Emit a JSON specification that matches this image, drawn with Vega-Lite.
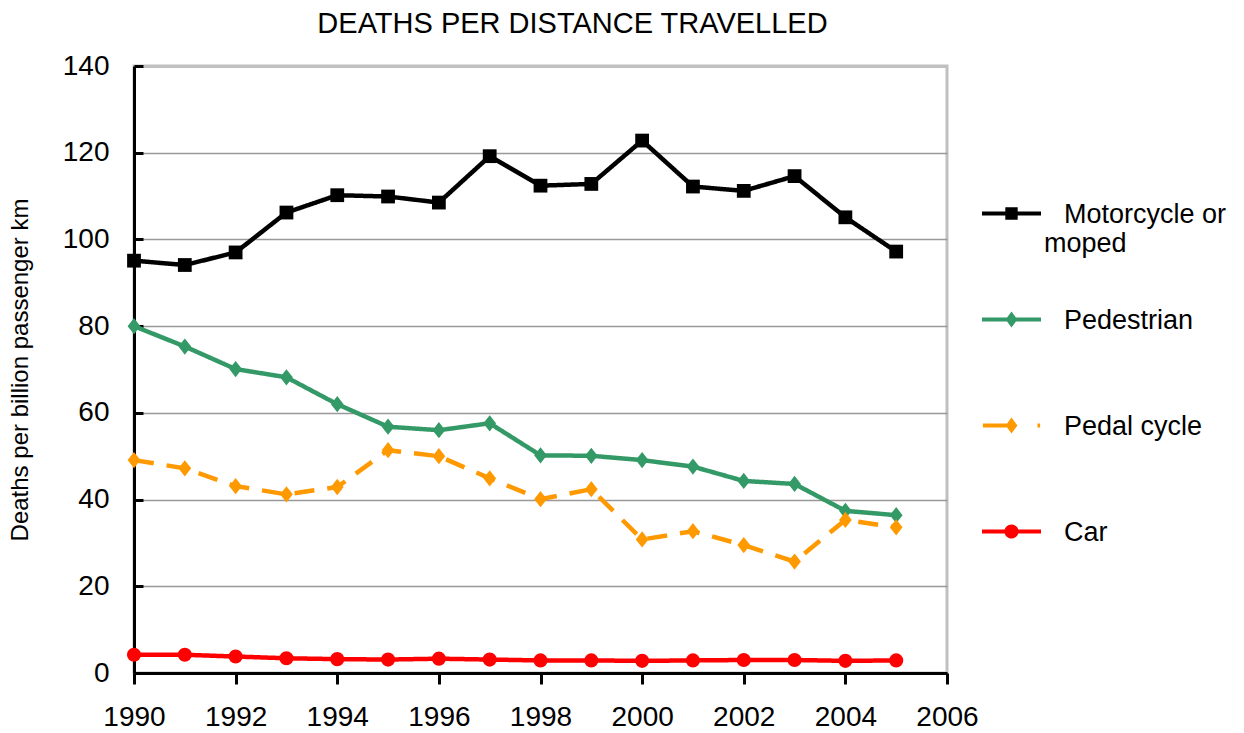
{
  "$schema": "https://vega.github.io/schema/vega-lite/v6.json",
  "autosize": {"type": "none"},
  "padding": {"left": 134, "top": 66, "right": 297, "bottom": 60},
  "width": 813,
  "height": 607,
  "background": "white",
  "title": {
    "text": "DEATHS PER DISTANCE TRAVELLED",
    "font": "Liberation Sans",
    "fontSize": 29,
    "fontWeight": "normal",
    "color": "#000000",
    "anchor": "middle",
    "dx": 32,
    "offset": 13
  },
  "data": {
    "values": [
      {"year": 1990, "series": "Motorcycle or moped", "value": 95.1},
      {"year": 1991, "series": "Motorcycle or moped", "value": 94.1},
      {"year": 1992, "series": "Motorcycle or moped", "value": 97.0},
      {"year": 1993, "series": "Motorcycle or moped", "value": 106.2},
      {"year": 1994, "series": "Motorcycle or moped", "value": 110.2},
      {"year": 1995, "series": "Motorcycle or moped", "value": 109.9},
      {"year": 1996, "series": "Motorcycle or moped", "value": 108.5},
      {"year": 1997, "series": "Motorcycle or moped", "value": 119.2},
      {"year": 1998, "series": "Motorcycle or moped", "value": 112.4},
      {"year": 1999, "series": "Motorcycle or moped", "value": 112.8},
      {"year": 2000, "series": "Motorcycle or moped", "value": 122.8},
      {"year": 2001, "series": "Motorcycle or moped", "value": 112.2},
      {"year": 2002, "series": "Motorcycle or moped", "value": 111.2},
      {"year": 2003, "series": "Motorcycle or moped", "value": 114.6},
      {"year": 2004, "series": "Motorcycle or moped", "value": 105.1},
      {"year": 2005, "series": "Motorcycle or moped", "value": 97.2},
      {"year": 1990, "series": "Pedestrian", "value": 80.0},
      {"year": 1991, "series": "Pedestrian", "value": 75.3},
      {"year": 1992, "series": "Pedestrian", "value": 70.1},
      {"year": 1993, "series": "Pedestrian", "value": 68.2},
      {"year": 1994, "series": "Pedestrian", "value": 62.0},
      {"year": 1995, "series": "Pedestrian", "value": 56.8},
      {"year": 1996, "series": "Pedestrian", "value": 56.0},
      {"year": 1997, "series": "Pedestrian", "value": 57.6},
      {"year": 1998, "series": "Pedestrian", "value": 50.2},
      {"year": 1999, "series": "Pedestrian", "value": 50.1},
      {"year": 2000, "series": "Pedestrian", "value": 49.1},
      {"year": 2001, "series": "Pedestrian", "value": 47.6},
      {"year": 2002, "series": "Pedestrian", "value": 44.3},
      {"year": 2003, "series": "Pedestrian", "value": 43.6},
      {"year": 2004, "series": "Pedestrian", "value": 37.4},
      {"year": 2005, "series": "Pedestrian", "value": 36.4},
      {"year": 1990, "series": "Pedal cycle", "value": 49.1},
      {"year": 1991, "series": "Pedal cycle", "value": 47.2},
      {"year": 1992, "series": "Pedal cycle", "value": 43.1},
      {"year": 1993, "series": "Pedal cycle", "value": 41.2},
      {"year": 1994, "series": "Pedal cycle", "value": 42.9},
      {"year": 1995, "series": "Pedal cycle", "value": 51.4},
      {"year": 1996, "series": "Pedal cycle", "value": 50.0},
      {"year": 1997, "series": "Pedal cycle", "value": 44.9},
      {"year": 1998, "series": "Pedal cycle", "value": 40.1},
      {"year": 1999, "series": "Pedal cycle", "value": 42.4},
      {"year": 2000, "series": "Pedal cycle", "value": 30.8},
      {"year": 2001, "series": "Pedal cycle", "value": 32.7},
      {"year": 2002, "series": "Pedal cycle", "value": 29.5},
      {"year": 2003, "series": "Pedal cycle", "value": 25.7},
      {"year": 2004, "series": "Pedal cycle", "value": 35.3},
      {"year": 2005, "series": "Pedal cycle", "value": 33.6},
      {"year": 1990, "series": "Car", "value": 4.2},
      {"year": 1991, "series": "Car", "value": 4.2},
      {"year": 1992, "series": "Car", "value": 3.8},
      {"year": 1993, "series": "Car", "value": 3.4},
      {"year": 1994, "series": "Car", "value": 3.2},
      {"year": 1995, "series": "Car", "value": 3.1},
      {"year": 1996, "series": "Car", "value": 3.3},
      {"year": 1997, "series": "Car", "value": 3.1},
      {"year": 1998, "series": "Car", "value": 2.9},
      {"year": 1999, "series": "Car", "value": 2.9},
      {"year": 2000, "series": "Car", "value": 2.8},
      {"year": 2001, "series": "Car", "value": 2.9},
      {"year": 2002, "series": "Car", "value": 3.0},
      {"year": 2003, "series": "Car", "value": 3.0},
      {"year": 2004, "series": "Car", "value": 2.8},
      {"year": 2005, "series": "Car", "value": 2.9}
    ]
  },
  "encoding": {
    "x": {
      "field": "year",
      "type": "quantitative",
      "scale": {"domain": [1990, 2006], "nice": false, "zero": false},
      "axis": {
        "values": [1990, 1992, 1994, 1996, 1998, 2000, 2002, 2004, 2006],
        "format": "d",
        "title": null,
        "grid": false,
        "tickSize": 11,
        "labelPadding": 19,
        "labelFlush": false,
        "labelOverlap": false
      }
    },
    "y": {
      "field": "value",
      "type": "quantitative",
      "scale": {"domain": [0, 140], "nice": false},
      "axis": {
        "values": [0, 20, 40, 60, 80, 100, 120, 140],
        "title": "Deaths per billion passenger km",
        "titleFontSize": 24,
        "titleFontWeight": "normal",
        "titlePadding": 30,
        "tickSize": -9,
        "labelPadding": 34,
        "grid": true,
        "gridColor": {"condition": {"test": "datum.value == 140", "value": "#c0c0c0"}, "value": "#999999"},
        "gridWidth": {"condition": {"test": "datum.value == 140", "value": 3}, "value": 1.3}
      }
    }
  },
  "layer": [
    {
      "mark": {"type": "line", "strokeWidth": 4.5, "strokeJoin": "miter"},
      "encoding": {
        "color": {
          "field": "series",
          "type": "nominal",
          "scale": {
            "domain": ["Motorcycle or moped", "Pedestrian", "Pedal cycle", "Car"],
            "range": ["#000000", "#339966", "#FF9900", "#FF0000"]
          },
          "legend": {
            "orient": "none",
            "legendX": 848,
            "legendY": 118,
            "title": null,
            "padding": 0,
            "symbolSize": 3481,
            "symbolStrokeWidth": 0,
            "symbolOpacity": 1,
            "labelFont": "Liberation Sans",
            "labelFontSize": 27,
            "labelColor": "#000000",
            "labelOffset": 3,
            "labelLimit": 400,
            "rowPadding": 33,
            "labelBaseline": "alphabetic",
            "labelExpr": "datum.label == 'Motorcycle or moped' ? ['\\u2800Motorcycle or', 'moped'] : ['\\u2800' + datum.label, '']",
            "encode": {
              "symbols": {
                "update": {
                  "fill": {"signal": "scale('color', datum.value)"},
                  "stroke": {"signal": "scale('color', datum.value)"},
                  "strokeWidth": {"value": 0},
                  "opacity": {"value": 1},
                  "fillOpacity": {"value": 1}
                }
              },
              "labels": {
                "update": {
                  "dy": {"value": 9},
                  "lineHeight": {"value": 29}
                }
              }
            }
          }
        },
        "strokeDash": {
          "field": "series",
          "type": "nominal",
          "scale": {
            "domain": ["Motorcycle or moped", "Pedestrian", "Pedal cycle", "Car"],
            "range": [[1, 0], [1, 0], [20, 13], [1, 0]]
          },
          "legend": null
        }
      }
    },
    {
      "transform": [{"filter": {"field": "series", "equal": "Motorcycle or moped"}}],
      "mark": {"type": "point", "filled": true, "opacity": 1, "size": 190, "shape": "square"},
      "encoding": {"color": {"field": "series", "type": "nominal", "legend": null}}
    },
    {
      "transform": [{"filter": {"field": "series", "equal": "Pedestrian"}}],
      "mark": {"type": "point", "filled": true, "opacity": 1, "size": 200, "shape": "M0,-1.15L0.9,0L0,1.15L-0.9,0Z"},
      "encoding": {"color": {"field": "series", "type": "nominal", "legend": null}}
    },
    {
      "transform": [{"filter": {"field": "series", "equal": "Pedal cycle"}}],
      "mark": {"type": "point", "filled": true, "opacity": 1, "size": 200, "shape": "M0,-1.15L0.9,0L0,1.15L-0.9,0Z"},
      "encoding": {"color": {"field": "series", "type": "nominal", "legend": null}}
    },
    {
      "transform": [{"filter": {"field": "series", "equal": "Car"}}],
      "mark": {"type": "point", "filled": true, "opacity": 1, "size": 200, "shape": "circle"},
      "encoding": {"color": {"field": "series", "type": "nominal", "legend": null}}
    },
    {
      "transform": [{"filter": {"field": "year", "lt": 0}}],
      "mark": {"type": "point", "filled": true, "opacity": 1},
      "encoding": {
        "color": {"field": "series", "type": "nominal", "legend": null},
        "shape": {
          "field": "series",
          "type": "nominal",
          "scale": {
            "domain": ["Motorcycle or moped", "Pedestrian", "Pedal cycle", "Car"],
            "range": [
              "M-1,-0.068H1V0.068H-1ZM-0.21,-0.21H0.21V0.21H-0.21Z",
              "M-1,-0.068H1V0.068H-1ZM0,-0.27L0.2,0L0,0.27L-0.2,0Z",
              "M-0.97,-0.068H0V0.068H-0.97ZM0,-0.27L0.2,0L0,0.27L-0.2,0ZM0.88,-0.068H0.97V0.068H0.88Z",
              "M-1,-0.068H1V0.068H-1ZM-0.24,0A0.24,0.24,0,1,1,0.24,0A0.24,0.24,0,1,1,-0.24,0Z"
            ]
          },
          "legend": null
        }
      }
    }
  ],
  "config": {
    "font": "Liberation Sans",
    "view": {"stroke": "#c0c0c0", "strokeWidth": 3},
    "axis": {
      "labelFont": "Liberation Sans",
      "labelFontSize": 28,
      "labelColor": "#000000",
      "titleFont": "Liberation Sans",
      "titleColor": "#000000",
      "domainColor": "#000000",
      "domainWidth": 3,
      "tickColor": "#000000",
      "tickWidth": 3
    }
  }
}
